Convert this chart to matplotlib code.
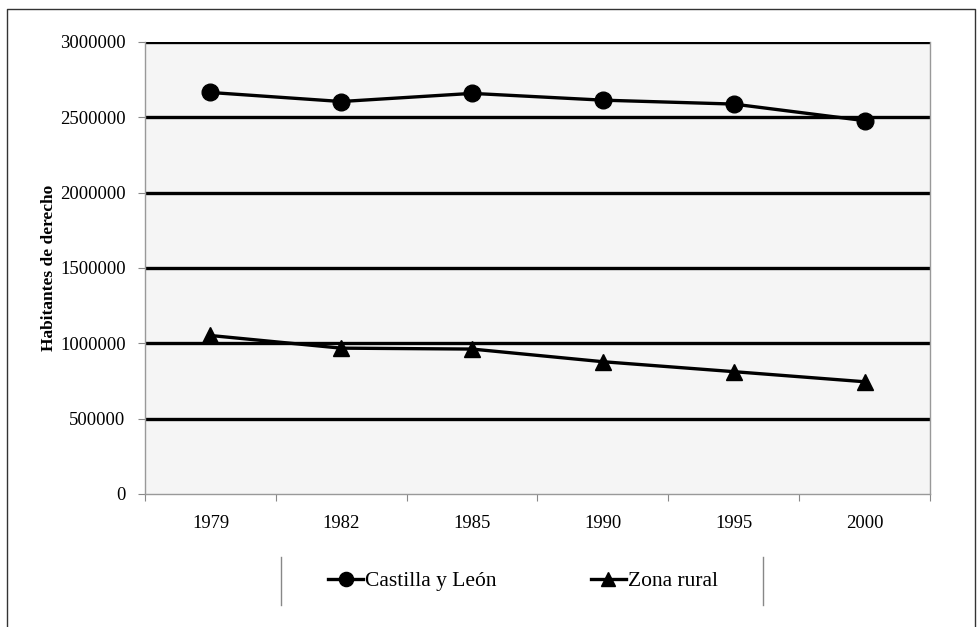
import matplotlib.pyplot as plt
from matplotlib.lines import Line2D

# datos
years = ['1979', '1982', '1985', '1990', '1995', '2000']
castilla = [2665000, 2605000, 2659000, 2614000, 2588000, 2478000]
rural = [1052000, 968000, 962000, 878000, 812000, 745000]
yticks = [0, 500000, 1000000, 1500000, 2000000, 2500000, 3000000]

plt.rcParams['font.family'] = ['Liberation Serif', 'DejaVu Serif']

fig = plt.figure(figsize=(9.77, 6.27), dpi=100)
ax = fig.add_axes([145/977, 1-494/627, (930-145)/977, (494-42)/627])
ax.set_facecolor('#f5f5f5')

x = list(range(len(years)))
ax.plot(x, castilla, color='black', lw=2.4, marker='o', ms=12, label='Castilla y León', zorder=3)
ax.plot(x, rural, color='black', lw=2.4, marker='^', ms=12, label='Zona rural', zorder=3)

ax.set_xlim(-0.5, len(years) - 0.5)
ax.set_ylim(0, 3000000)
ax.set_yticks(yticks)
ax.set_yticklabels([str(v) for v in yticks])
for v in yticks[1:]:
    ax.axhline(v, color='black', lw=2.4, zorder=2)

# ticks del eje x entre categorias
ax.set_xticks([i - 0.5 for i in range(len(years) + 1)])
ax.set_xticklabels([])
ax.set_xticks(x, minor=True)
ax.set_xticklabels(years, minor=True)
ax.tick_params(axis='x', which='minor', length=0, pad=15, labelsize=13.4)
ax.tick_params(axis='x', which='major', length=5, color='#888888')
ax.tick_params(axis='y', length=5, color='#888888', pad=9, labelsize=13.4)

for s in ['left', 'right', 'bottom']:
    ax.spines[s].set_color('#999999')
    ax.spines[s].set_linewidth(1)
ax.spines['top'].set_visible(False)

ax.set_ylabel('Habitantes de derecho', fontweight='bold', fontsize=12.5)
ax.yaxis.set_label_coords(-0.112, 0.5)

fig.legend(loc='center', bbox_to_anchor=(523/977, 1-581/627), ncol=2, frameon=False,
           fontsize=15.5, handlelength=1.6, handletextpad=0.1, columnspacing=4.4,
           markerscale=0.85)

# lineas laterales de la leyenda
fig.add_artist(Line2D([281/977, 281/977], [1-557/627, 1-605/627], color='#888888', lw=1))
fig.add_artist(Line2D([763/977, 763/977], [1-557/627, 1-605/627], color='#888888', lw=1))

# marco de la figura
fig.add_artist(Line2D([7/977, 7/977, 975/977, 975/977], [0, 1-9/627, 1-9/627, 0], color='#333333', lw=1))

fig.savefig('out.png', dpi=100)
